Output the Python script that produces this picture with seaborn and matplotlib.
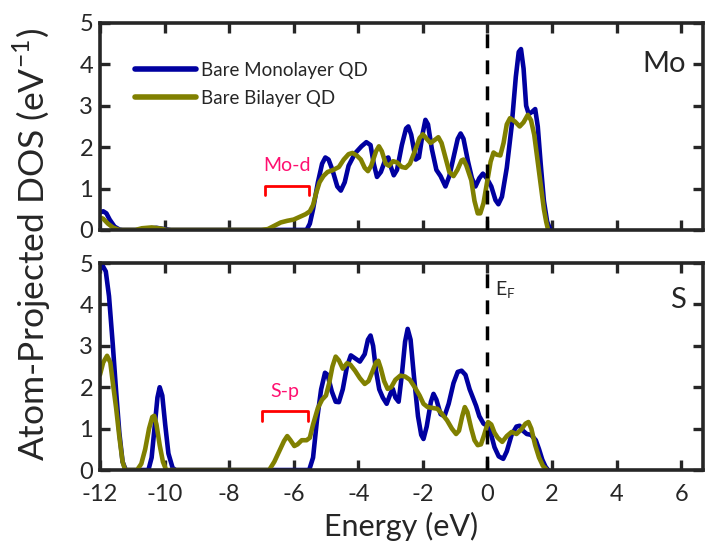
import matplotlib
matplotlib.use("Agg")
import matplotlib.pyplot as plt
import seaborn as sns
import pandas as pd

# Mo-projected DOS (top panel)
mo_mono_e = [-12, -11.9, -11.8, -11.7, -11.55, -11.4, -11.3, -10.6, -10.4, -10.25, -10.0, -9.8,
             -5.6, -5.5, -5.4, -5.25, -5.12, -5.02, -4.92, -4.8, -4.65, -4.54, -4.42, -4.3, -4.1,
             -3.9, -3.75, -3.62, -3.52, -3.42, -3.3, -3.15, -3.07, -2.98, -2.9, -2.8, -2.65, -2.52,
             -2.45, -2.36, -2.22, -2.12, -2.0, -1.92, -1.84, -1.72, -1.58, -1.45, -1.3, -1.18,
             -1.05, -0.92, -0.83, -0.74, -0.6, -0.48, -0.37, -0.25, -0.14, -0.02, 0.12, 0.25,
             0.34, 0.45, 0.6, 0.75, 0.88, 0.97, 1.04, 1.12, 1.2, 1.28, 1.38, 1.48, 1.56, 1.65,
             1.75, 1.85, 1.95]
mo_mono_d = [0.42, 0.45, 0.4, 0.25, 0.08, 0.01, 0, 0, 0.04, 0.05, 0.02, 0,
             0, 0.15, 0.5, 1.15, 1.6, 1.75, 1.7, 1.45, 1.05, 0.95, 1.15, 1.55, 1.85,
             2.02, 2.12, 2.05, 1.6, 1.28, 1.4, 1.72, 1.75, 1.5, 1.32, 1.45, 2.05, 2.45,
             2.5, 2.3, 1.7, 1.75, 2.35, 2.66, 2.55, 1.95, 1.45, 1.3, 1.05, 1.3,
             1.75, 2.2, 2.33, 2.2, 1.65, 1.25, 1.05, 1.25, 1.36, 1.25, 1.05, 0.72,
             0.62, 0.8, 1.5, 2.5, 3.7, 4.3, 4.37, 3.9, 3.0, 2.8, 2.85, 2.92, 2.5, 1.6,
             0.7, 0.2, 0]

mo_bi_e = [-12, -11.9, -11.75, -11.6, -11.4, -10.9, -10.7, -10.4, -10.1, -9.95, -7.0, -6.8, -6.6,
           -6.4, -6.2, -6.0, -5.8, -5.63, -5.5, -5.4, -5.3, -5.2, -5.08, -4.95, -4.8, -4.6, -4.45,
           -4.3, -4.18, -4.05, -3.92, -3.8, -3.7, -3.6, -3.45, -3.36, -3.27, -3.15, -3.05, -2.92,
           -2.8, -2.65, -2.53, -2.4, -2.25, -2.1, -2.0, -1.88, -1.76, -1.62, -1.52, -1.42, -1.3,
           -1.18, -1.05, -0.93, -0.8, -0.74, -0.65, -0.5, -0.4, -0.3, -0.22, -0.12, 0.0, 0.1,
           0.19, 0.28, 0.4, 0.5, 0.6, 0.7, 0.85, 1.0, 1.12, 1.25, 1.35, 1.45, 1.55, 1.65, 1.75,
           1.82, 1.88]
mo_bi_d = [0.3, 0.27, 0.15, 0.06, 0, 0, 0.04, 0.06, 0.03, 0, 0, 0.02, 0.1,
           0.18, 0.22, 0.25, 0.32, 0.38, 0.45, 0.6, 0.9, 1.15, 1.3, 1.4, 1.44, 1.52, 1.7,
           1.83, 1.86, 1.8, 1.7, 1.5, 1.42, 1.55, 1.9, 2.02, 1.9, 1.6, 1.55, 1.66,
           1.63, 1.52, 1.5, 1.6, 1.9, 2.22, 2.31, 2.2, 2.1, 2.18, 2.24, 2.1, 1.75,
           1.4, 1.3, 1.45, 1.68, 1.7, 1.55, 1.2, 0.7, 0.4, 0.4, 0.65, 1.2, 1.65,
           1.87, 1.82, 1.8, 2.1, 2.55, 2.7, 2.62, 2.5, 2.6, 2.78, 2.65, 2.3, 1.7, 1.1, 0.5,
           0.2, 0]

# S-projected DOS (bottom panel)
s_mono_e = [-12, -11.92, -11.82, -11.72, -11.6, -11.5, -11.4, -11.3, -11.2, -10.5, -10.4, -10.3,
            -10.22, -10.15, -10.07, -9.98, -9.88, -9.75, -9.65, -5.52, -5.4, -5.28, -5.15, -5.03,
            -4.95, -4.82, -4.7, -4.6, -4.48, -4.35, -4.23, -4.1, -3.95, -3.8, -3.7, -3.62, -3.54,
            -3.45, -3.35, -3.24, -3.12, -3.0, -2.93, -2.85, -2.75, -2.65, -2.55, -2.47, -2.38,
            -2.28, -2.15, -2.05, -1.98, -1.88, -1.75, -1.67, -1.58, -1.45, -1.33, -1.2, -1.05,
            -0.92, -0.8, -0.68, -0.55, -0.45, -0.35, -0.25, -0.12, 0.0, 0.1, 0.22, 0.35, 0.49,
            0.6, 0.75, 0.9, 1.0, 1.1, 1.22, 1.35, 1.5, 1.6, 1.7, 1.8, 1.88]
s_mono_d = [4.85, 4.94, 4.8, 4.2, 3.0, 1.9, 0.9, 0.2, 0, 0, 0.3, 1.1,
            1.75, 2.0, 1.8, 1.1, 0.4, 0.05, 0, 0, 0.3, 1.2, 1.95, 2.35,
            2.3, 1.9, 1.65, 1.64, 1.95, 2.5, 2.77, 2.7, 2.62, 2.8, 3.15, 3.25, 3.0,
            2.4, 1.95, 1.75, 1.6, 1.85, 1.96, 1.75, 1.65, 2.3, 3.1, 3.41, 3.15,
            2.3, 1.3, 0.85, 0.75, 1.05, 1.65, 1.84, 1.7, 1.35, 1.3, 1.6, 2.1,
            2.37, 2.4, 2.3, 1.95, 1.75, 1.55, 1.3, 1.12, 1.07, 0.9, 0.55, 0.33, 0.27,
            0.45, 0.85, 1.05, 1.07, 0.95, 0.87, 0.85, 0.72, 0.5, 0.25, 0.08, 0]

s_bi_e = [-12, -11.9, -11.78, -11.68, -11.6, -11.5, -11.4, -11.3, -11.22, -10.85, -10.72, -10.6,
          -10.48, -10.38, -10.32, -10.25, -10.15, -10.05, -9.95, -6.76, -6.6, -6.45, -6.3, -6.2,
          -6.1, -5.98, -5.88, -5.75, -5.6, -5.5, -5.4, -5.25, -5.12, -5.0, -4.9, -4.8, -4.7,
          -4.6, -4.48, -4.35, -4.25, -4.1, -3.95, -3.8, -3.68, -3.55, -3.45, -3.38, -3.3, -3.2,
          -3.09, -2.98, -2.85, -2.7, -2.55, -2.4, -2.25, -2.1, -1.98, -1.85, -1.7, -1.55, -1.4,
          -1.25, -1.1, -0.97, -0.88, -0.78, -0.7, -0.62, -0.5, -0.4, -0.3, -0.2, -0.1, 0.02,
          0.12, 0.22, 0.32, 0.46, 0.6, 0.75, 0.9, 1.05, 1.18, 1.27, 1.36, 1.48, 1.6, 1.72, 1.85]
s_bi_d = [2.3, 2.6, 2.76, 2.6, 2.1, 1.5, 0.8, 0.2, 0, 0, 0.15, 0.5,
          1.0, 1.28, 1.31, 1.1, 0.6, 0.2, 0, 0, 0.2, 0.45, 0.7, 0.82,
          0.72, 0.58, 0.62, 0.72, 0.72, 0.78, 1.1, 1.5, 1.7, 1.8, 2.1, 2.5, 2.74,
          2.65, 2.45, 2.58, 2.55, 2.4, 2.22, 2.08, 2.15, 2.4, 2.6, 2.64, 2.45, 2.15,
          1.96, 2.0, 2.18, 2.28, 2.26, 2.18, 2.0, 1.8, 1.6, 1.52, 1.5, 1.48, 1.35,
          1.2, 1.0, 0.87, 0.95, 1.3, 1.52, 1.4, 1.0, 0.72, 0.6, 0.62, 0.85, 1.16,
          1.1, 0.9, 0.78, 0.68, 0.82, 0.92, 0.87, 0.98, 1.12, 1.16, 1.0, 0.6, 0.3, 0.1, 0]

x_ticks = [-12, -10, -8, -6, -4, -2, 0, 2, 4, 6]
y_ticks = [0, 1, 2, 3, 4, 5]

blue = "#0000A0"
olive = "#808000"

sns.set_style("ticks")
plt.rcParams["font.family"] = ["Lato", "DejaVu Sans"]

fig = plt.figure(figsize=(7.07, 5.54), dpi=100)
ax_top = fig.add_axes([0.1414, 0.585, 0.8526, 0.3735])
ax_bot = fig.add_axes([0.1414, 0.1516, 0.8526, 0.3735])

panels = [
    (ax_top, mo_mono_e, mo_mono_d, mo_bi_e, mo_bi_d),
    (ax_bot, s_mono_e, s_mono_d, s_bi_e, s_bi_d),
]
for ax, me, md, be, bd in panels:
    mono = pd.DataFrame({"E": me, "DOS": md})
    bi = pd.DataFrame({"E": be, "DOS": bd})
    sns.lineplot(data=mono, x="E", y="DOS", ax=ax, color=blue, lw=3.3, sort=False,
                 estimator=None, label="Bare Monolayer QD", solid_joinstyle="round")
    sns.lineplot(data=bi, x="E", y="DOS", ax=ax, color=olive, lw=3.3, sort=False,
                 estimator=None, label="Bare Bilayer QD", solid_joinstyle="round")
    ax.axvline(0, color="black", lw=2.5, ls=(0, (4, 3.5)), zorder=5)
    ax.set_xlim(-12, 6.67)
    ax.set_ylim(0, 5)
    ax.set_xticks(x_ticks)
    ax.set_yticks(y_ticks)
    ax.tick_params(direction="in", length=7, width=2.4, top=True, right=True,
                   labelsize=17)
    ax.tick_params(axis="x", pad=10)
    ax.tick_params(axis="y", pad=5)
    for sp in ax.spines.values():
        sp.set_linewidth(2.6)
    ax.set_xlabel("")
    ax.set_ylabel("")

ax_top.tick_params(labelbottom=False)
ax_bot.set_xticklabels([str(t) for t in x_ticks])
ax_bot.set_xlabel("Energy (eV)", fontsize=22, labelpad=5)
ax_bot.legend_.remove()

leg = ax_top.legend(loc="upper left", frameon=False, fontsize=13.5, handlelength=3.3,
                    handletextpad=0.25, labelspacing=0.6, bbox_to_anchor=(0.045, 0.85),
                    borderaxespad=0)
for h in leg.get_lines():
    h.set_linewidth(4)

fig.text(0.045, 0.558, "Atom-Projected DOS (eV$^{\\mathregular{-1}}$)", rotation=90,
         va="center", ha="center", fontsize=25.5)

ax_top.text(6.15, 4.0, "Mo", fontsize=21, ha="right", va="center")
ax_bot.text(6.15, 4.1, "S", fontsize=21, ha="right", va="center")
ax_bot.text(0.22, 4.35, "E$_\\mathregular{F}$", fontsize=14, ha="left", va="center")

# orbital brackets
pink = "#FF1070"
ax_top.plot([-6.9, -6.9, -5.52, -5.52], [0.84, 1.05, 1.05, 0.84], color="red", lw=2)
ax_top.text(-6.2, 1.55, "Mo-d", color=pink, fontsize=14, ha="center", va="center")
ax_bot.plot([-6.97, -6.97, -5.56, -5.56], [1.19, 1.43, 1.43, 1.19], color="red", lw=2)
ax_bot.text(-6.27, 1.9, "S-p", color=pink, fontsize=14, ha="center", va="center")

fig.savefig("out.png", dpi=100)
